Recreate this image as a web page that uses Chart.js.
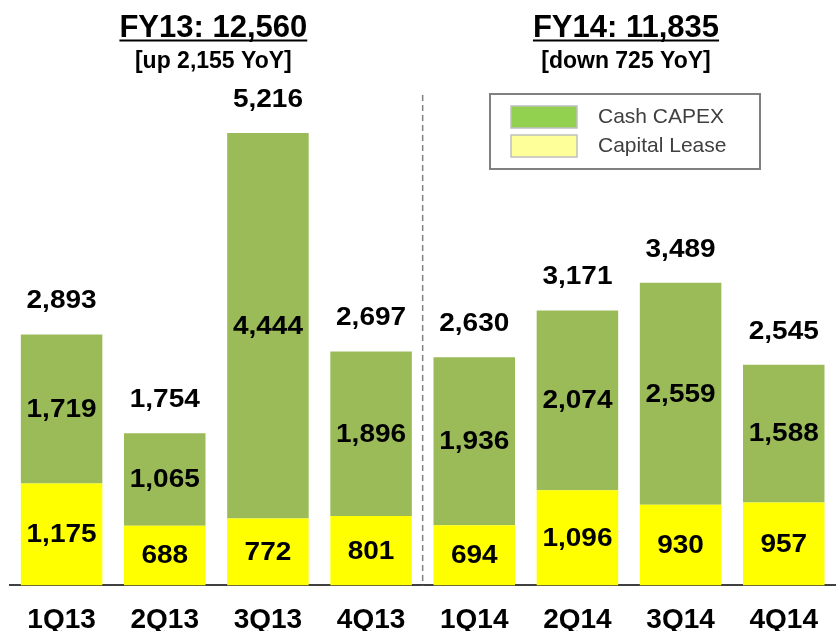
<!DOCTYPE html>
<html>
<head>
<meta charset="utf-8">
<script src="https://cdn.jsdelivr.net/npm/chart.js@4/dist/chart.umd.min.js"></script>
<style>
    html, body { margin: 0; padding: 0; background: #ffffff; }
    #wrap { width: 836px; height: 631px; position: relative; }
</style>
</head>
<body>
<div id="wrap"><canvas id="capexChart"></canvas></div>
<script>
const quarters = ['1Q13', '2Q13', '3Q13', '4Q13', '1Q14', '2Q14', '3Q14', '4Q14'];
const capitalLease = [1175, 688, 772, 801, 694, 1096, 930, 957];
const cashCapex = [1719, 1065, 4444, 1896, 1936, 2074, 2559, 1588];
const totals = [2893, 1754, 5216, 2697, 2630, 3171, 3489, 2545];
const yearHeaders = [
    { title: 'FY13: 12,560', sub: '[up 2,155 YoY]', from: 0, to: 3 },
    { title: 'FY14: 11,835', sub: '[down 725 YoY]', from: 4, to: 7 }
];

const FONT = '"Liberation Sans", Arial, sans-serif';

function fmt(v) {
    return v.toLocaleString('en-US');
}

// draw text slightly widened, like the original labels
function wideText(ctx, text, x, y, sx) {
    ctx.save();
    ctx.translate(x, y);
    ctx.scale(sx, 1);
    ctx.fillText(text, 0, 0);
    ctx.restore();
}

// labels inside segments + totals on top
const labelPlugin = {
    id: 'labelPlugin',
    afterDatasetsDraw(chart) {
        const ctx = chart.ctx;
        ctx.save();
        ctx.fillStyle = '#000000';
        ctx.textAlign = 'center';
        ctx.textBaseline = 'middle';
        ctx.font = 'bold 25px ' + FONT;
        chart.data.datasets.forEach((ds, di) => {
            const meta = chart.getDatasetMeta(di);
            meta.data.forEach((bar, i) => {
                wideText(ctx, fmt(ds.data[i]), bar.x, (bar.y + bar.base) / 2 + 1, 1.12);
            });
        });
        const topMeta = chart.getDatasetMeta(chart.data.datasets.length - 1);
        topMeta.data.forEach((bar, i) => {
            wideText(ctx, fmt(totals[i]), bar.x, bar.y - 33, 1.12);
        });
        ctx.restore();
    }
};

// year headers, divider and legend box
const decorPlugin = {
    id: 'decorPlugin',
    afterDraw(chart) {
        const ctx = chart.ctx;
        const x = chart.scales.x;
        const area = chart.chartArea;
        ctx.save();

        // dashed divider between the years
        const divX = (x.getPixelForValue(3) + x.getPixelForValue(4)) / 2;
        ctx.strokeStyle = '#808080';
        ctx.lineWidth = 1.5;
        ctx.setLineDash([6, 4]);
        ctx.beginPath();
        ctx.moveTo(divX, 95);
        ctx.lineTo(divX, area.bottom);
        ctx.stroke();
        ctx.setLineDash([]);

        // headers
        ctx.fillStyle = '#000000';
        ctx.textAlign = 'center';
        ctx.textBaseline = 'alphabetic';
        yearHeaders.forEach(h => {
            const cx = (x.getPixelForValue(h.from) + x.getPixelForValue(h.to)) / 2 - 3;
            ctx.font = 'bold 31px ' + FONT;
            ctx.fillText(h.title, cx, 37);
            const w = ctx.measureText(h.title).width;
            ctx.fillRect(cx - w / 2, 39.5, w, 2);
            ctx.font = 'bold 23px ' + FONT;
            ctx.fillText(h.sub, cx, 68);
        });

        // legend
        ctx.strokeStyle = '#808080';
        ctx.lineWidth = 2;
        ctx.strokeRect(490, 94, 270, 75);
        const items = [
            { label: 'Cash CAPEX', color: '#92D050', y: 106 },
            { label: 'Capital Lease', color: '#FFFF99', y: 135 }
        ];
        ctx.textAlign = 'left';
        ctx.textBaseline = 'middle';
        ctx.font = '21px ' + FONT;
        items.forEach(it => {
            ctx.fillStyle = it.color;
            ctx.fillRect(511, it.y, 66, 22);
            ctx.strokeStyle = '#BFBFBF';
            ctx.lineWidth = 1.5;
            ctx.strokeRect(511, it.y, 66, 22);
            ctx.fillStyle = '#404040';
            ctx.fillText(it.label, 598, it.y + 11);
        });
        ctx.restore();
    }
};

new Chart(document.getElementById('capexChart'), {
    type: 'bar',
    data: {
        labels: quarters,
        datasets: [
            {
                label: 'Capital Lease',
                data: capitalLease,
                backgroundColor: '#FFFF00',
                borderWidth: 0
            },
            {
                label: 'Cash CAPEX',
                data: cashCapex,
                backgroundColor: '#9BBB59',
                borderWidth: 0
            }
        ]
    },
    options: {
        responsive: true,
        maintainAspectRatio: false,
        animation: false,
        layout: {
            padding: { top: 65, left: 10, right: -8, bottom: -24 }
        },
        datasets: {
            bar: { categoryPercentage: 1, barPercentage: 0.79 }
        },
        scales: {
            x: {
                stacked: true,
                grid: { display: false, drawTicks: false },
                border: { display: true, color: '#404040', width: 2 },
                ticks: {
                    color: '#000000',
                    padding: 18,
                    font: { family: FONT, size: 28, weight: 'bold' }
                }
            },
            y: {
                stacked: true,
                display: false,
                min: 0,
                max: 6000
            }
        },
        plugins: {
            legend: { display: false },
            tooltip: { enabled: false }
        }
    },
    plugins: [labelPlugin, decorPlugin]
});
</script>
</body>
</html>
